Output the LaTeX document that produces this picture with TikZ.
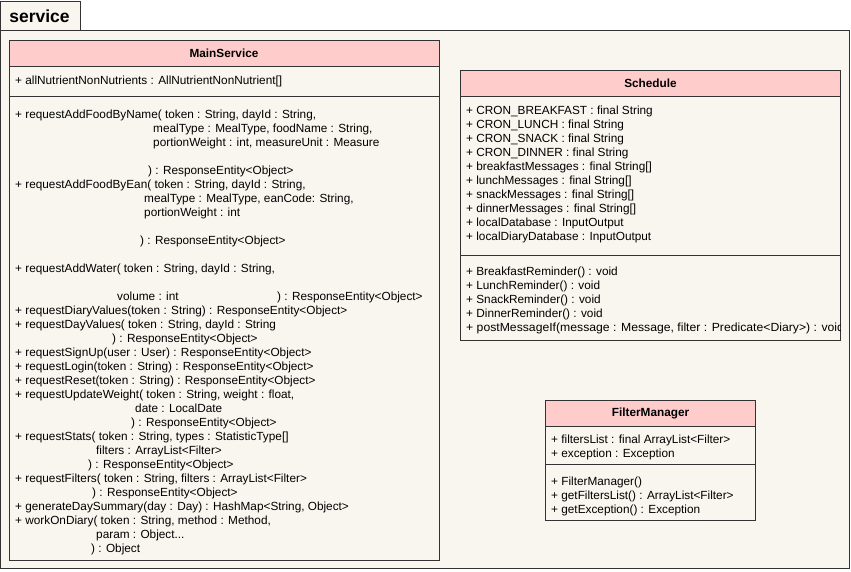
\documentclass[tikz,border=0pt]{standalone}
\usepackage{fontspec}
\setmainfont{Liberation Sans}
\definecolor{bodycol}{HTML}{F8F6EE}
\definecolor{headcol}{HTML}{FFCCCC}
\definecolor{linecol}{HTML}{333333}
\tikzset{
    umlbox/.style={draw=linecol,line width=1pt,fill=bodycol},
    umlhead/.style={draw=linecol,line width=1pt,fill=headcol},
    umlline/.style={draw=linecol,line width=1pt},
    umltext/.style={anchor=base west,inner sep=0pt,font=\fontsize{11.8}{14}\selectfont},
    umltitle/.style={inner sep=0pt,font=\fontsize{11.8}{14}\selectfont\bfseries},
}
\begin{document}
\begin{tikzpicture}[x=1pt,y=-1pt]
    \useasboundingbox (0,0) rectangle (851,571);
    \draw[umlbox] (0.5,1) rectangle (80,30);
    \draw[umlbox] (0.5,30) rectangle (849.5,568.5);
    \node[umltitle,font=\fontsize{17.5}{20}\selectfont\bfseries] (pkg) at (39.5,16) {service};

    \draw[umlbox] (9,66) rectangle (439.5,560.5);
    \draw[umlhead] (9,40) rectangle (439.5,66);
    \draw[umlline] (9,96) -- (439.5,96);
    \node[umltitle] (mainservice) at (224,53) {MainService};
    \foreach \x/\y/\t [count=\i] in {
        15/80/{+ allNutrientNonNutrients : AllNutrientNonNutrient[]},
        15/114/{+ requestAddFoodByName( token : String, dayId : String,},
        153/128/{mealType : MealType, foodName : String,},
        153/142/{portionWeight : int, measureUnit : Measure},
        148/170/{) : ResponseEntity<Object>},
        15/184/{+ requestAddFoodByEan( token : String, dayId : String,},
        144/198/{mealType : MealType, eanCode: String,},
        144/212/{portionWeight : int},
        140/240/{) : ResponseEntity<Object>},
        15/268/{+ requestAddWater( token : String, dayId : String,},
        117/296/{volume : int},
        277/296/{) : ResponseEntity<Object>},
        15/310/{+ requestDiaryValues(token : String) : ResponseEntity<Object>},
        15/324/{+ requestDayValues( token : String, dayId : String},
        112/338/{) : ResponseEntity<Object>},
        15/352/{+ requestSignUp(user : User) : ResponseEntity<Object>},
        15/366/{+ requestLogin(token : String) : ResponseEntity<Object>},
        15/380/{+ requestReset(token : String) : ResponseEntity<Object>},
        15/394/{+ requestUpdateWeight( token : String, weight : float,},
        135/408/{date : LocalDate},
        131/422/{) : ResponseEntity<Object>},
        15/436/{+ requestStats( token : String, types : StatisticType[]},
        96/450/{filters : ArrayList<Filter>},
        88/464/{) : ResponseEntity<Object>},
        15/478/{+ requestFilters( token : String, filters : ArrayList<Filter>},
        92/492/{) : ResponseEntity<Object>},
        15/506/{+ generateDaySummary(day : Day) : HashMap<String, Object>},
        15/520/{+ workOnDiary( token : String, method : Method,},
        96/534/{param : Object...},
        91/548/{) : Object}}
        \node[umltext] (main\i) at (\x,\y+4) {\t};

    \draw[umlbox] (460.5,96.5) rectangle (840.5,340.5);
    \draw[umlhead] (460.5,70) rectangle (840.5,96.5);
    \draw[umlline] (460.5,255) -- (840.5,255);
    \node[umltitle] (schedule) at (650.5,83) {Schedule};
    \begin{scope}
        \clip (461,97) rectangle (840,340);
        \foreach \y/\t [count=\i] in {
            110/{+ CRON\_BREAKFAST : final String},
            124/{+ CRON\_LUNCH : final String},
            138/{+ CRON\_SNACK : final String},
            152/{+ CRON\_DINNER : final String},
            166/{+ breakfastMessages : final String[]},
            180/{+ lunchMessages : final String[]},
            194/{+ snackMessages : final String[]},
            208/{+ dinnerMessages : final String[]},
            222/{+ localDatabase : InputOutput},
            236/{+ localDiaryDatabase : InputOutput},
            271/{+ BreakfastReminder() : void},
            285/{+ LunchReminder() : void},
            299/{+ SnackReminder() : void},
            313/{+ DinnerReminder() : void},
            327/{\scalebox{1.035}[1]{+ postMessageIf(message : Message, filter : Predicate<Diary>) : void}}}
            \node[umltext] (sched\i) at (466,\y+4) {\t};
    \end{scope}

    \draw[umlbox] (545.5,426) rectangle (755.5,520.5);
    \draw[umlhead] (545.5,400) rectangle (755.5,426);
    \draw[umlline] (545.5,464) -- (755.5,464);
    \node[umltitle] (filtermanager) at (650.5,413) {FilterManager};
    \foreach \y/\t [count=\i] in {
        439/{+ filtersList : final ArrayList<Filter>},
        453/{+ exception : Exception},
        481/{+ FilterManager()},
        495/{+ getFiltersList() : ArrayList<Filter>},
        509/{+ getException() : Exception}}
        \node[umltext] (filter\i) at (551,\y+4) {\t};
\end{tikzpicture}
\end{document}
